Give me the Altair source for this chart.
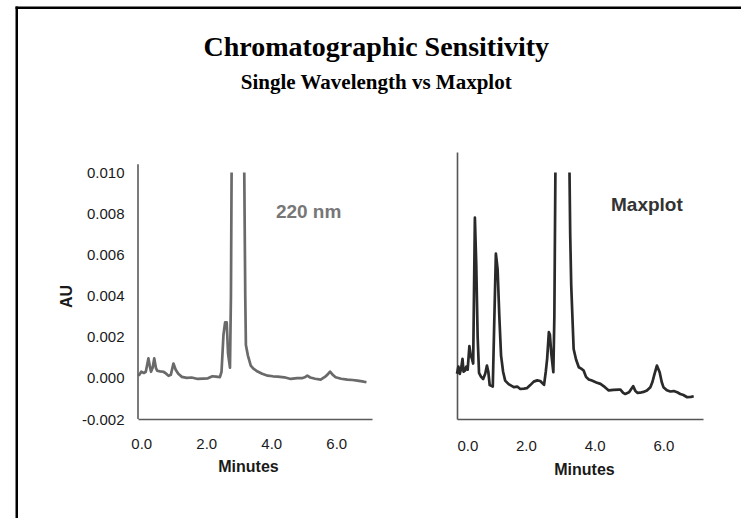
import altair as alt
import pandas as pd

# ---------------- data ----------------
left_minutes = [-0.08, 0.00, 0.08, 0.14, 0.22, 0.26, 0.30, 0.35, 0.40, 0.45, 0.49, 0.58, 0.68, 0.76,
                0.84, 0.91, 0.99, 1.06, 1.14, 1.25, 1.40, 1.55, 1.74, 1.90, 2.05, 2.19, 2.30, 2.42,
                2.47, 2.53, 2.58, 2.63, 2.67, 2.73, 2.76, 2.78,
                3.17, 3.20, 3.22, 3.28, 3.37, 3.45, 3.58, 3.72, 3.89, 4.05, 4.20, 4.40, 4.60, 4.80,
                4.96, 5.05, 5.11, 5.20, 5.35, 5.52, 5.65, 5.73, 5.81, 5.90, 5.98, 6.15, 6.34, 6.50,
                6.65, 6.80, 6.93]
left_au = [0.00010, 0.00030, 0.00024, 0.00030, 0.00095, 0.00060, 0.00030, 0.00050, 0.00095, 0.00050,
           0.00035, 0.00032, 0.00030, 0.00022, 0.00010, 0.00015, 0.00070, 0.00040, 0.00020, 0.00005,
           0.00000, 0.00002, -0.00005, -0.00003, -0.00002, 0.00008, 0.00006, 0.00004,
           0.00030, 0.00210, 0.00270, 0.00270, 0.00120, 0.00050, 0.00400, 0.01000,
           0.01000, 0.00400, 0.00160, 0.00110, 0.00060, 0.00045, 0.00031, 0.00020, 0.00011, 0.00008,
           0.00006, 0.00003, -0.00005, -0.00001, -0.00001, 0.00005, 0.00011, 0.00002, -0.00004,
           -0.00008, 0.00005, 0.00016, 0.00031, 0.00014, 0.00003, -0.00004, -0.00008, -0.00010,
           -0.00013, -0.00017, -0.00021]
left_segment = ["a"] * 36 + ["b"] * 31

right_minutes = [0.00, 0.04, 0.08, 0.12, 0.16, 0.19, 0.23, 0.27, 0.31, 0.36, 0.40, 0.44, 0.47, 0.52,
                 0.56, 0.60, 0.64, 0.70, 0.76, 0.82, 0.87, 0.91, 0.95, 1.04, 1.08, 1.13, 1.18, 1.23,
                 1.28, 1.34, 1.40, 1.50, 1.65, 1.75, 1.84, 1.95, 2.03, 2.13, 2.23, 2.33, 2.42, 2.53,
                 2.58, 2.62, 2.67, 2.70, 2.74, 2.80, 2.83, 2.86,
                 3.27, 3.29, 3.32, 3.39, 3.46, 3.54, 3.61, 3.68, 3.75, 3.83, 3.92, 4.05, 4.17, 4.30,
                 4.41, 4.55, 4.70, 4.75, 4.83, 4.89, 5.00, 5.06, 5.12, 5.18, 5.25, 5.32, 5.42, 5.52,
                 5.62, 5.68, 5.73, 5.81, 5.89, 5.95, 6.00, 6.10, 6.20, 6.30, 6.40, 6.49, 6.58, 6.69,
                 6.80, 6.88]
right_au = [0.00020, 0.00055, 0.00020, 0.00045, 0.00093, 0.00030, 0.00035, 0.00055, 0.00040, 0.00155,
            0.00110, 0.00090, 0.00070, 0.00780, 0.00550, 0.00200, 0.00025, 0.00005, -0.00005, 0.00020,
            0.00060, 0.00030, -0.00035, -0.00042, 0.00250, 0.00605, 0.00530, 0.00300, 0.00110, 0.00030,
            -0.00013, -0.00030, -0.00045, -0.00042, -0.00054, -0.00052, -0.00050, -0.00035, -0.00018,
            -0.00012, -0.00015, -0.00034, 0.00030, 0.00093, 0.00223, 0.00210, 0.00120, 0.00028,
            0.00300, 0.01000,
            0.01000, 0.00700, 0.00450, 0.00141, 0.00090, 0.00052, 0.00045, 0.00036, 0.00005, -0.00008,
            -0.00013, -0.00022, -0.00029, -0.00045, -0.00061, -0.00058, -0.00057, -0.00057, -0.00073,
            -0.00078, -0.00070, -0.00055, -0.00040, -0.00062, -0.00073, -0.00072, -0.00068, -0.00061,
            -0.00045, -0.00020, 0.00012, 0.00060, 0.00028, -0.00020, -0.00045, -0.00060, -0.00066,
            -0.00064, -0.00070, -0.00078, -0.00083, -0.00094, -0.00092, -0.00089]
right_segment = ["a"] * 50 + ["b"] * 44

x_ticks = [0, 2, 4, 6]
y_ticks = [-0.002, 0.000, 0.002, 0.004, 0.006, 0.008, 0.010]
y_domain = [-0.002, 0.011]
left_x_domain = [-0.1, 7.1]
right_x_domain = [0.0, 7.15]
left_axis_extent = [-0.002, 0.0104]

left_label = ["220 nm"]
left_label_minutes = [5.15]
left_label_au = [0.0081]
right_label = ["Maxplot"]
right_label_minutes = [5.52]
right_label_au = [0.0084]

left_df = pd.DataFrame({"Minutes": left_minutes, "AU": left_au, "seg": left_segment})
right_df = pd.DataFrame({"Minutes": right_minutes, "AU": right_au, "seg": right_segment})

SANS = "Liberation Sans"
SERIF = "Liberation Serif"

# ---------------- left panel ----------------
lx = alt.X("Minutes:Q", scale=alt.Scale(domain=left_x_domain, nice=False, zero=False),
           axis=alt.Axis(values=x_ticks, format=".1f", grid=False, ticks=False, tickSize=0,
                         labelPadding=17, labelFont=SANS, labelFontSize=15, labelColor="#1a1a1a",
                         domainColor="#5a5a5a", domainWidth=1.6,
                         title="Minutes", titleFont=SANS, titleFontSize=16, titleFontWeight="bold",
                         titleColor="#1a1a1a", titleX=110, titleY=47, titleAlign="center",
                         titleBaseline="middle"))
ly = alt.Y("AU:Q", scale=alt.Scale(domain=y_domain, nice=False, zero=False),
           axis=alt.Axis(values=y_ticks, grid=False, ticks=False, tickSize=0, domain=False,
                         labelExpr="replace(format(datum.value, '.3f'), '\u2212', '-')",
                         labelPadding=14, labelFont=SANS, labelFontSize=15, labelColor="#1a1a1a",
                         title="AU", titleFont=SANS, titleFontSize=16, titleFontWeight="bold",
                         titleColor="#1a1a1a", titleX=-72, titleY=144, titleAlign="center",
                         titleBaseline="middle", titleAngle=270))

left_line = alt.Chart(left_df).mark_line(color="#6a6a6a", strokeWidth=2.7, strokeJoin="round").encode(
    x=lx, y=ly, detail="seg:N")

left_axis_line = alt.Chart(pd.DataFrame({"lo": [left_axis_extent[0]], "hi": [left_axis_extent[1]]})).mark_rule(
    color="#5a5a5a", strokeWidth=1.6).encode(x=alt.value(0), y="lo:Q", y2="hi:Q")

left_text = alt.Chart(pd.DataFrame({"t": left_label, "m": left_label_minutes, "a": left_label_au})).mark_text(
    font=SANS, fontSize=19, fontWeight="bold", color="#777777", align="center", baseline="middle").encode(
    x="m:Q", y="a:Q", text="t:N")

# outer frame (left and top edges only, as in the reference)
frame_df = pd.DataFrame({"k": [0]})
frame_v = alt.Chart(frame_df).mark_rect(color="black").encode(
    x=alt.value(-122.5), x2=alt.value(-120), y=alt.value(-145.5), y2=alt.value(366))
frame_h = alt.Chart(frame_df).mark_rect(color="black").encode(
    x=alt.value(-122.5), x2=alt.value(603), y=alt.value(-145.5), y2=alt.value(-143))

left = alt.layer(left_line, left_axis_line, left_text, frame_v, frame_h).properties(width=234, height=267)

# ---------------- right panel ----------------
rx = alt.X("Minutes:Q", scale=alt.Scale(domain=right_x_domain, nice=False, zero=False),
           axis=alt.Axis(values=x_ticks, format=".1f", grid=False, ticks=False, tickSize=0,
                         labelPadding=19, labelFont=SANS, labelFontSize=15, labelColor="#1a1a1a",
                         domainColor="#555555", domainWidth=1.6,
                         title="Minutes", titleFont=SANS, titleFontSize=16, titleFontWeight="bold",
                         titleColor="#1a1a1a", titleX=127, titleY=50, titleAlign="center",
                         titleBaseline="middle"))
ry = alt.Y("AU:Q", scale=alt.Scale(domain=y_domain, nice=False, zero=False),
           axis=alt.Axis(grid=False, ticks=False, labels=False, title=None,
                         domainColor="#555555", domainWidth=1.6))

right_line = alt.Chart(right_df).mark_line(color="#2a2a2a", strokeWidth=2.7, strokeJoin="round").encode(
    x=rx, y=ry, detail="seg:N")
right_text = alt.Chart(pd.DataFrame({"t": right_label, "m": right_label_minutes, "a": right_label_au})).mark_text(
    font=SANS, fontSize=19, fontWeight="bold", color="#333333", align="center", baseline="middle").encode(
    x="m:Q", y="a:Q", text="t:N")

right = alt.layer(right_line, right_text).properties(width=246, height=267)

chart = alt.hconcat(left, right, spacing=85, bounds="flush").properties(
    title=alt.TitleParams(
        text="Chromatographic Sensitivity",
        subtitle="Single Wavelength vs Maxplot",
        font=SERIF, fontSize=28, fontWeight="bold", color="black",
        subtitleFont=SERIF, subtitleFontSize=21, subtitleFontWeight="bold", subtitleColor="black",
        subtitlePadding=10, anchor="middle", frame="bounds", offset=-86, dx=-2,
    ),
    autosize=alt.AutoSizeParams(type="pad"),
    padding={"left": 15, "top": 6, "right": 10, "bottom": 0},
    background="white",
).configure_view(stroke=None)

chart.save("out.html", embed_options={"renderer": "svg", "actions": False})
